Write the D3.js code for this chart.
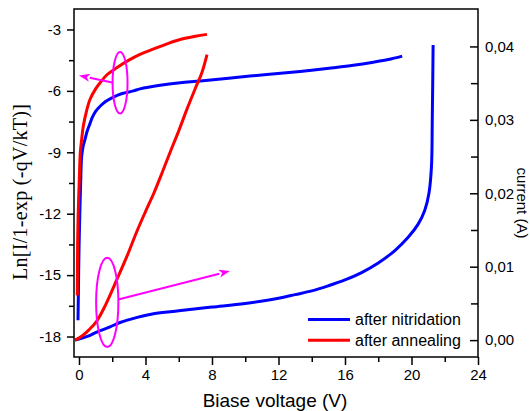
<!DOCTYPE html>
<html><head><meta charset="utf-8">
<script src="https://cdn.jsdelivr.net/npm/d3@7"></script>
<style>body{margin:0;background:#fff}svg{display:block}</style>
</head><body>
<svg id="c" width="530" height="411"></svg>
<script>
// ---- data ----
const xTicks = [0, 4, 8, 12, 16, 20, 24];
const yLeftTicks = [-3, -6, -9, -12, -15, -18];
const yRightTicks = [0.00, 0.01, 0.02, 0.03, 0.04];
const yRightLabels = ["0,00", "0,01", "0,02", "0,03", "0,04"];

// ln curves (left axis)
const blueLnX = [-0.06, -0.03, 0.0, 0.05, 0.1, 0.16, 0.25, 0.36, 0.5, 0.66, 0.8, 1.0, 1.27, 1.6, 2.07, 2.6, 3.27, 3.67, 4.88, 6.08, 7.3, 9.0, 11.3, 13.3, 15.3, 16.5, 17.7, 18.6, 19.44];
const blueLnY = [-17.2, -15.5, -13.8, -12.0, -10.5, -9.2, -8.7, -8.37, -7.95, -7.6, -7.3, -7.0, -6.75, -6.52, -6.3, -6.13, -6.0, -5.9, -5.72, -5.6, -5.52, -5.38, -5.2, -5.05, -4.87, -4.75, -4.6, -4.47, -4.3];
const redLnX = [-0.1, -0.08, -0.04, 0.02, 0.08, 0.16, 0.26, 0.45, 0.66, 1.0, 1.27, 1.7, 2.27, 3.0, 3.67, 4.5, 5.3, 6.08, 7.0, 7.7];
const redLnY = [-16.0, -13.3, -11.8, -10.3, -9.0, -8.37, -7.72, -7.0, -6.42, -5.9, -5.6, -5.2, -4.87, -4.5, -4.22, -3.95, -3.7, -3.49, -3.33, -3.24];

// current curves (right axis, A)
const blueIX = [-0.24, 0.5, 1.07, 1.87, 2.47, 3.5, 4.48, 6.0, 8.0, 10.0, 12.0, 13.0, 14.0, 15.0, 16.0, 17.0, 18.0, 19.0, 19.8, 20.4, 20.8, 21.05, 21.2, 21.25, 21.3];
const blueIY = [0.0, 0.0005, 0.0011, 0.0018, 0.0024, 0.0031, 0.0036, 0.0040, 0.0045, 0.0050, 0.0057, 0.0062, 0.0067, 0.0074, 0.0082, 0.0092, 0.0105, 0.0122, 0.0140, 0.0158, 0.0177, 0.0200, 0.0236, 0.0300, 0.0402];
const redIX = [-0.24, 0.2, 0.6, 1.07, 1.6, 2.27, 2.9, 3.48, 4.0, 4.5, 5.0, 5.5, 6.0, 6.5, 7.0, 7.4, 7.7];
const redIY = [0.0, 0.0006, 0.0014, 0.0026, 0.0048, 0.0082, 0.0115, 0.0148, 0.0175, 0.0200, 0.0228, 0.0257, 0.0285, 0.0315, 0.0343, 0.0365, 0.0389];

const legendLabels = ["after nitridation", "after annealing"];
const colors = ["#0000ff", "#ff0000"];

// ---- layout ----
const svg = d3.select("#c");
const L = 74, R = 478, T = 9, B = 357;
const x = d3.scaleLinear().domain([-0.3, 24]).range([L, R]);
const yL = d3.scaleLinear().domain([-19, -2]).range([B, T]);
const yR = d3.scaleLinear().domain([-0.0023, 0.0451]).range([B, T]);

const font = "Arial, 'Liberation Sans', sans-serif";

// frame
svg.append("rect").attr("x", L).attr("y", T).attr("width", R - L).attr("height", B - T)
  .attr("fill", "none").attr("stroke", "#000").attr("stroke-width", 1.5);

// bottom axis
svg.append("g").attr("transform", `translate(0,${B})`)
  .call(d3.axisBottom(x).tickValues(xTicks).tickSize(8).tickPadding(4).tickFormat(d => String(d)));
svg.append("g").attr("transform", `translate(0,${B})`)
  .call(d3.axisBottom(x).tickValues([2, 6, 10, 14, 18, 22]).tickSize(5).tickFormat(""));
// left axis
svg.append("g").attr("transform", `translate(${L},0)`)
  .call(d3.axisLeft(yL).tickValues(yLeftTicks).tickSize(7).tickPadding(6).tickFormat(d => String(d)));
svg.append("g").attr("transform", `translate(${L},0)`)
  .call(d3.axisLeft(yL).tickValues([-4.5, -7.5, -10.5, -13.5, -16.5]).tickSize(5).tickFormat(""));
// right axis (ticks inside)
svg.append("g").attr("transform", `translate(${R},0)`)
  .call(d3.axisRight(yR).tickValues(yRightTicks).tickSize(-8).tickPadding(7).tickFormat((d, i) => yRightLabels[i]));
svg.append("g").attr("transform", `translate(${R},0)`)
  .call(d3.axisRight(yR).tickValues([0.005, 0.015, 0.025, 0.035]).tickSize(-7).tickFormat(""));

svg.selectAll(".domain").attr("stroke", "none");
svg.selectAll(".tick line").attr("stroke", "#000").attr("stroke-width", 1.5);
svg.selectAll(".tick text").attr("font-family", font).attr("font-size", 15).attr("fill", "#000");

// curves
const crv = d3.curveCatmullRom.alpha(0.5);
const lineL = d3.line().x(d => x(d[0])).y(d => yL(d[1])).curve(crv);
const lineR = d3.line().x(d => x(d[0])).y(d => yR(d[1])).curve(crv);
const zip = (a, b) => a.map((v, i) => [v, b[i]]);

svg.append("path").datum(zip(blueIX, blueIY)).attr("d", lineR)
  .attr("fill", "none").attr("stroke", colors[0]).attr("stroke-width", 3);
svg.append("path").datum(zip(blueLnX, blueLnY)).attr("d", lineL)
  .attr("fill", "none").attr("stroke", colors[0]).attr("stroke-width", 3);
svg.append("path").datum(zip(redIX, redIY)).attr("d", lineR)
  .attr("fill", "none").attr("stroke", colors[1]).attr("stroke-width", 3);
svg.append("path").datum(zip(redLnX, redLnY)).attr("d", lineL)
  .attr("fill", "none").attr("stroke", colors[1]).attr("stroke-width", 3);

// annotations (data units, left axis)
const mag = "#ff00ff";
const ellipses = [{cx: 2.47, cy: -5.6, rx: 0.45, ry: 1.5}, {cx: 1.7, cy: -16.33, rx: 0.67, ry: 2.18}];
const arrows = [{x1: 2.06, y1: -5.6, x2: 0.0, y2: -5.25}, {x1: 2.36, y1: -16.19, x2: 9.08, y2: -14.8}];
ellipses.forEach(e => {
  svg.append("ellipse").attr("cx", x(e.cx)).attr("cy", yL(e.cy))
    .attr("rx", x(e.cx + e.rx) - x(e.cx)).attr("ry", yL(e.cy - e.ry) - yL(e.cy))
    .attr("fill", "none").attr("stroke", mag).attr("stroke-width", 2);
});
arrows.forEach(a => {
  const X1 = x(a.x1), Y1 = yL(a.y1), X2 = x(a.x2), Y2 = yL(a.y2);
  const ang = Math.atan2(Y2 - Y1, X2 - X1);
  const len = 11, w = 4;
  const bx = X2 - len * Math.cos(ang), by = Y2 - len * Math.sin(ang);
  svg.append("line").attr("x1", X1).attr("y1", Y1).attr("x2", bx).attr("y2", by)
    .attr("stroke", mag).attr("stroke-width", 2);
  const p = [[X2, Y2],
    [bx + w * Math.sin(ang), by - w * Math.cos(ang)],
    [bx + 3 * Math.cos(ang), by + 3 * Math.sin(ang)],
    [bx - w * Math.sin(ang), by + w * Math.cos(ang)]];
  svg.append("path").attr("d", "M" + p.map(q => q.join(",")).join("L") + "Z").attr("fill", mag);
});

// legend
const lg = svg.append("g");
legendLabels.forEach((t, i) => {
  const yy = 319.5 + i * 20.7;
  lg.append("line").attr("x1", 308).attr("x2", 350).attr("y1", yy).attr("y2", yy)
    .attr("stroke", colors[i]).attr("stroke-width", 3);
  lg.append("text").attr("x", 355).attr("y", yy).attr("dy", "0.35em")
    .attr("font-family", font).attr("font-size", 16).text(t);
});

// axis titles
svg.append("text").attr("x", 275).attr("y", 407).attr("text-anchor", "middle")
  .attr("font-family", font).attr("font-size", 19).text("Biase voltage (V)");
svg.append("text").attr("transform", "translate(27,192) rotate(-90)").attr("text-anchor", "middle")
  .attr("font-family", "'Liberation Serif', 'Times New Roman', serif").attr("font-size", 20)
  .attr("textLength", 176).attr("lengthAdjust", "spacing").text("Ln[I/1-exp (-qV/kT)]");
svg.append("text").attr("transform", "translate(517,203) rotate(90)").attr("text-anchor", "middle")
  .attr("font-family", font).attr("font-size", 15).text("current (A)");
</script>
</body></html>
